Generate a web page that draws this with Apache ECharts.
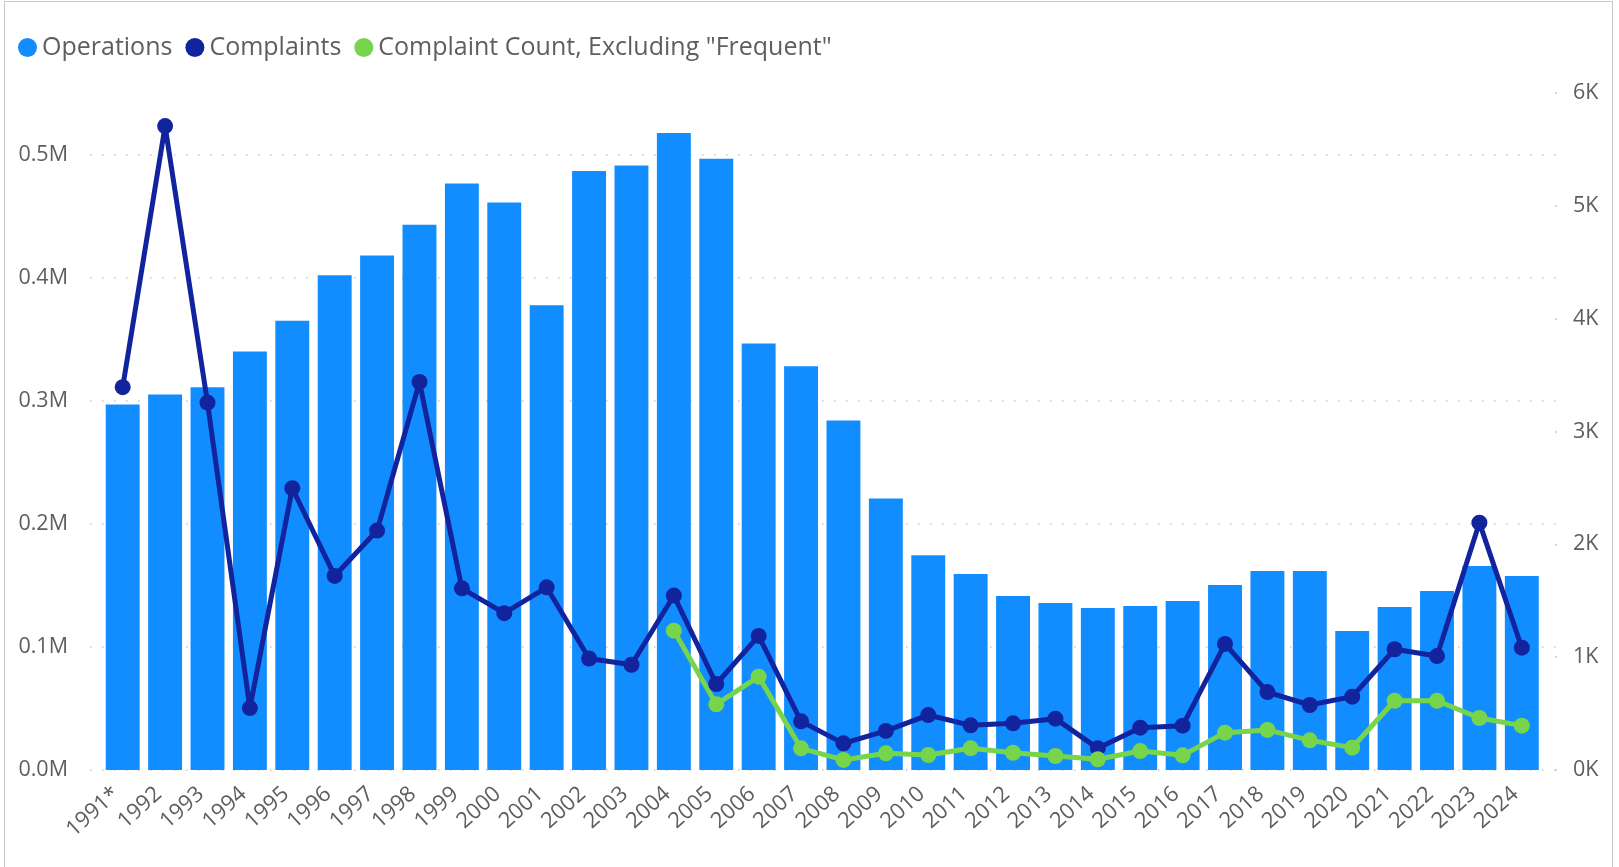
<!DOCTYPE html>
<html>
<head>
<meta charset="utf-8">
<script src="https://cdn.jsdelivr.net/npm/echarts@6/dist/echarts.min.js"></script>
<style>
  html, body { margin: 0; padding: 0; background: #ffffff; }
  #frame { position: absolute; left: 4px; top: 1px; width: 1609px; height: 890px; border: 1px solid #c8c8c8; box-sizing: border-box; }
  #chart { position: absolute; left: 0; top: 0; width: 1619px; height: 867px; }
</style>
</head>
<body>
<div id="frame"></div>
<div id="chart"></div>
<script>
const years = ['1991*','1992','1993','1994','1995','1996','1997','1998','1999','2000','2001','2002','2003','2004','2005','2006','2007','2008','2009','2010','2011','2012','2013','2014','2015','2016','2017','2018','2019','2020','2021','2022','2023','2024'];
const operations = [297000,305000,311000,340000,365000,402000,418000,443000,476500,461000,377500,486600,491000,517600,496600,346500,328000,284000,220600,174500,159200,141300,135700,131600,133200,137300,150300,161700,161700,112900,132400,145400,165700,157600];
const complaints = [3393,5707,3256,549,2497,1720,2122,3439,1610,1390,1619,988,933,1546,762,1188,431,236,346,487,396,414,455,192,375,393,1117,691,576,650,1070,1010,2192,1084];
const complaintsExclFrequent = [null,null,null,null,null,null,null,null,null,null,null,null,null,1235,582,827,192,89,148,133,192,153,124,95,168,130,331,355,263,198,614,614,461,393];
const leftTicks = { min: 0, max: 550000, interval: 100000 };
const rightTicks = { min: 0, max: 6000, interval: 1000 };

const FONT = '"Segoe UI", "Open Sans", sans-serif';
const TXT = '#605e5c';
const BAR = '#118dff', NAVY = '#12239e', GREEN = '#76d54b';
const chart = echarts.init(document.getElementById('chart'), null, { renderer: 'canvas' });
chart.setOption({
  animation: false,
  textStyle: { fontFamily: FONT },
  legend: {
    left: 18, top: 35, padding: 0,
    icon: 'circle', itemWidth: 19, itemHeight: 19, itemGap: 13,
    textStyle: { fontFamily: FONT, fontSize: 25, color: TXT },
    data: [
      { name: 'Operations', itemStyle: { color: BAR } },
      { name: 'Complaints', itemStyle: { color: NAVY } },
      { name: 'Complaint Count, Excluding "Frequent"', itemStyle: { color: GREEN } }
    ]
  },
  grid: [
    { left: 101.5, right: 76, top: 93, bottom: 97 },   // data
    { left: 90, right: 62, top: 93, bottom: 97 },      // value axes + gridlines
    { left: 95, right: 82.5, top: 93, bottom: 97 }     // category labels (placed slightly left of the ticks)
  ],
  xAxis: [
    { type: 'category', data: years, gridIndex: 0, axisLine: { show: false }, axisTick: { show: false }, axisLabel: { show: false } },
    { type: 'value', gridIndex: 1, min: 0, max: 1, show: false },
    {
      type: 'category', data: years, gridIndex: 2,
      axisLine: { show: false }, axisTick: { show: false }, splitLine: { show: false },
      axisLabel: { rotate: 42, margin: 21, interval: 0, fontSize: 22, color: TXT, fontFamily: FONT }
    }
  ],
  yAxis: [
    { type: 'value', gridIndex: 0, min: leftTicks.min, max: leftTicks.max, interval: leftTicks.interval, show: false },
    { type: 'value', gridIndex: 0, min: rightTicks.min, max: rightTicks.max, interval: rightTicks.interval, show: false },
    {
      type: 'value', gridIndex: 1, position: 'left',
      min: leftTicks.min, max: leftTicks.max, interval: leftTicks.interval,
      axisLine: { show: false }, axisTick: { show: false },
      axisLabel: { fontSize: 21.5, color: TXT, margin: 22, fontFamily: FONT,
        formatter: v => v > 500000 ? '' : (v / 1e6).toFixed(1) + 'M' },
      splitLine: { show: true, showMaxLine: false, lineStyle: { color: '#c8c8c8', width: 1.5, type: [1.5, 10.5] } }
    },
    {
      type: 'value', gridIndex: 1, position: 'right',
      min: rightTicks.min, max: rightTicks.max, interval: rightTicks.interval,
      axisLine: { show: false },
      axisTick: { show: true, inside: true, length: 2, lineStyle: { color: '#c8c8c8', width: 1.5 } },
      axisLabel: { fontSize: 21.5, color: TXT, margin: 16, fontFamily: FONT,
        formatter: v => (v / 1000) + 'K' },
      splitLine: { show: false }
    },
    { type: 'value', gridIndex: 2, min: 0, max: 1, show: false }
  ],
  series: [
    { name: 'Operations', type: 'bar', xAxisIndex: 0, yAxisIndex: 0, data: operations, barCategoryGap: '20%',
      itemStyle: { color: BAR } },
    { name: 'Complaints', type: 'line', xAxisIndex: 0, yAxisIndex: 1, data: complaints, symbol: 'circle', symbolSize: 16,
      lineStyle: { width: 5, color: NAVY }, itemStyle: { color: NAVY } },
    { name: 'Complaint Count, Excluding "Frequent"', type: 'line', xAxisIndex: 0, yAxisIndex: 1, data: complaintsExclFrequent,
      symbol: 'circle', symbolSize: 16, connectNulls: false,
      lineStyle: { width: 5, color: GREEN }, itemStyle: { color: GREEN } }
  ]
});
</script>
</body>
</html>
